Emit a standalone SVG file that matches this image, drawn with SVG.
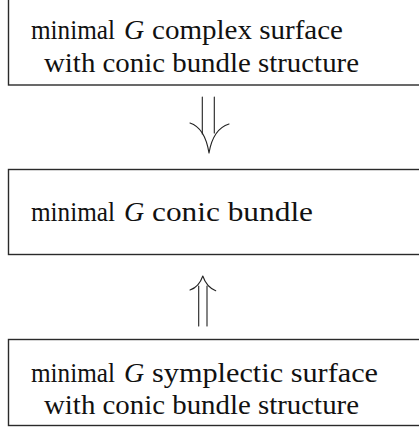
<svg xmlns="http://www.w3.org/2000/svg" width="419" height="428" viewBox="0 0 419 428">
  <style>
    .box { fill: #ffffff; stroke: #2a2a2a; stroke-width: 1.4; }
    .t { font-family: "Liberation Serif", "Times New Roman", serif; font-size: 28px; fill: #111111; }
    .m { font-style: italic; }
    .arr { fill: none; stroke: #222222; stroke-width: 1.1; stroke-linecap: round; }
  </style>
  <rect width="419" height="428" fill="#ffffff"/>

  <g id="complex-surface">
    <rect class="box" x="8.5" y="-2" width="420" height="87"/>
    <text class="t" x="31" y="39" textLength="84" lengthAdjust="spacingAndGlyphs">minimal</text>
    <text class="t m" x="124" y="39">G</text>
    <text class="t" x="152" y="39" textLength="191" lengthAdjust="spacingAndGlyphs">complex surface</text>
    <text class="t" x="44" y="72" textLength="315" lengthAdjust="spacingAndGlyphs">with conic bundle structure</text>
  </g>

  <g id="conic-bundle">
    <rect class="box" x="8.5" y="169.5" width="420" height="85"/>
    <text class="t" x="31" y="221" textLength="84" lengthAdjust="spacingAndGlyphs">minimal</text>
    <text class="t m" x="124" y="221">G</text>
    <text class="t" x="152" y="221" textLength="161" lengthAdjust="spacingAndGlyphs">conic bundle</text>
  </g>

  <g id="symplectic-surface">
    <rect class="box" x="8.5" y="339.5" width="420" height="86"/>
    <text class="t" x="31" y="382" textLength="84" lengthAdjust="spacingAndGlyphs">minimal</text>
    <text class="t m" x="124" y="382">G</text>
    <text class="t" x="152" y="382" textLength="226" lengthAdjust="spacingAndGlyphs">symplectic surface</text>
    <text class="t" x="44" y="414" textLength="315" lengthAdjust="spacingAndGlyphs">with conic bundle structure</text>
  </g>

  <g id="connectors">
    <!-- double arrow down: complex surface to conic bundle -->
    <path class="arr" d="M202.3,97 V134 M214.3,97 V133"/>
    <path class="arr" d="M190,123 Q205,128 209,153 M229,124 Q213,129 209,153"/>
    <!-- double arrow up: symplectic surface to conic bundle -->
    <path class="arr" d="M198.7,326 V286 M207,326 V286"/>
    <path class="arr" d="M190,290 Q199,287 202.8,276 M215.7,290.7 Q206.5,287 202.8,276"/>
  </g>
</svg>
